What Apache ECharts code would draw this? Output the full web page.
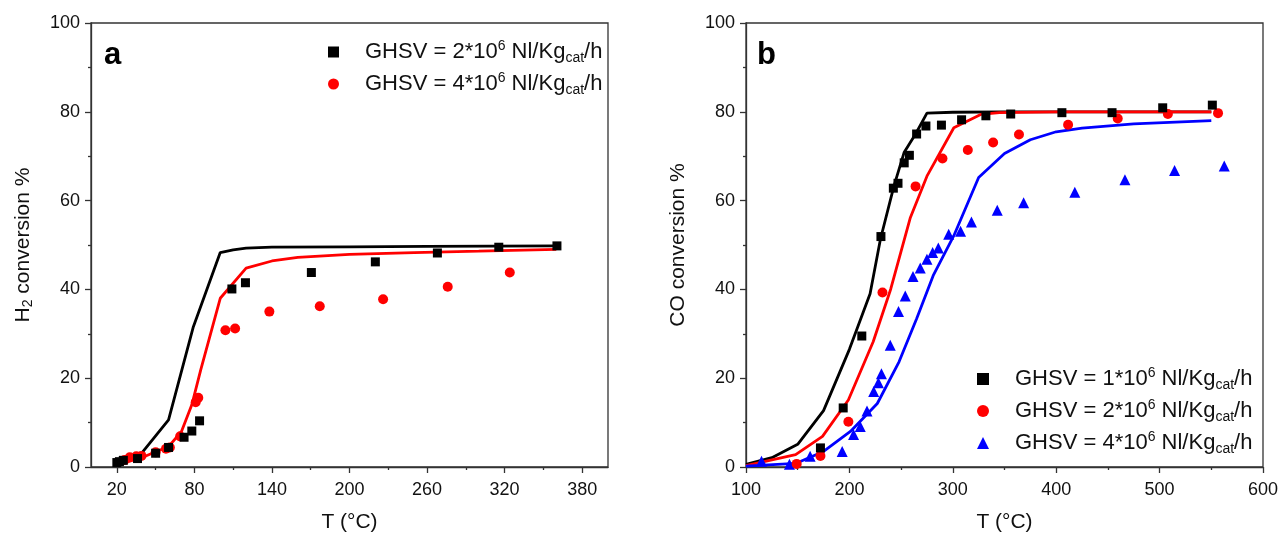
<!DOCTYPE html>
<html>
<head>
<meta charset="utf-8">
<style>
  html, body { margin: 0; padding: 0; background: #fff; }
  #chart { width: 1282px; height: 538px; }
</style>
<script src="https://cdn.jsdelivr.net/npm/echarts@6/dist/echarts.min.js"></script>
</head>
<body>
<div id="chart"></div>
<script>
// panel a: H2 conversion vs T
const aTicks = [20, 80, 140, 200, 260, 320, 380];
const aMinorTicks = [50, 110, 170, 230, 290, 350];

const aExp2T = [20, 22, 25, 36, 50, 60, 72, 78, 84, 109, 119.5, 170.5, 220, 268, 315.5, 360.5];
const aExp2V = [1.0, 1.2, 1.5, 1.9, 3.1, 4.4, 6.7, 8.1, 10.4, 40.1, 41.5, 43.8, 46.2, 48.2, 49.5, 49.8];
const aExp4T = [26, 30, 35, 39, 50, 58, 61, 69, 81, 83, 104, 111.5, 138, 177, 226, 276, 324];
const aExp4V = [1.6, 2.2, 2.4, 2.5, 3.3, 4.1, 4.4, 6.9, 14.6, 15.6, 30.8, 31.2, 35.0, 36.2, 37.8, 40.6, 43.8];

const aFit2T = [20, 30, 40, 60, 79, 100, 110, 120, 140, 200, 260, 360];
const aFit2V = [0.7, 1.6, 3.4, 10.6, 31.4, 48.3, 48.9, 49.3, 49.5, 49.6, 49.7, 49.8];
const aFit4T = [20, 40, 60, 70, 78, 85, 100, 120, 140, 160, 200, 250, 300, 360];
const aFit4V = [0.4, 2.2, 4.6, 8.0, 14.0, 22.0, 38.0, 44.8, 46.4, 47.2, 47.9, 48.3, 48.6, 49.0];

// panel b: CO conversion vs T
const bExp1T = [172, 194, 212, 230.5, 242.5, 247, 253, 258, 265, 274, 289, 308.5, 332, 356, 405.5, 454, 503, 551];
const bExp1V = [4.3, 13.3, 29.5, 51.9, 62.8, 63.9, 68.5, 70.2, 75.0, 76.8, 77.0, 78.2, 79.1, 79.5, 79.8, 79.8, 80.9, 81.5];
const bExp2T = [149, 172, 199, 232, 264, 290, 314.5, 339, 364, 411.5, 459.5, 508, 556.5];
const bExp2V = [0.7, 2.5, 10.2, 39.3, 63.2, 69.5, 71.4, 73.1, 74.9, 77.1, 78.5, 79.5, 79.7];
const bExp4T = [115, 142, 162, 193, 204, 210.5, 217, 223.5, 228, 231, 239.5, 247.5, 254, 261.5, 268.5, 275, 280.5, 286, 296, 307.5, 318, 343, 368.5, 418, 466.5, 514.5, 562.5];
const bExp4V = [1.3, 0.6, 2.4, 3.5, 7.3, 9.1, 12.6, 17.0, 19.0, 21.0, 27.4, 35.0, 38.5, 42.9, 44.8, 46.8, 48.3, 49.3, 52.4, 53.1, 55.2, 57.8, 59.5, 61.9, 64.7, 66.8, 67.8];

const bFit1T = [100, 125, 150, 175, 200, 220, 230, 243, 253, 264, 275, 300, 350, 400, 450, 500, 550];
const bFit1V = [0.6, 2.1, 5.1, 12.7, 26.5, 39.0, 51.3, 63.2, 70.9, 75.0, 79.7, 79.9, 80, 80, 80, 80, 80];
const bFit2T = [100, 148, 174, 199, 223, 240, 259, 275, 301, 327, 345, 400, 450, 500, 550];
const bFit2V = [0.3, 2.8, 6.9, 15.1, 28.2, 40.1, 56.2, 65.5, 76.4, 79.4, 79.8, 80, 80, 80, 80];
const bFit4T = [100, 148, 175, 201, 227, 248, 265, 281, 301, 325, 350, 375, 400, 425, 475, 550];
const bFit4V = [0.2, 0.8, 3.5, 8.0, 14.3, 23.7, 33.4, 43.1, 52.1, 65.2, 70.6, 73.7, 75.5, 76.3, 77.3, 78.0];

const legendA = ["2", "4"];
const legendB = ["1", "2", "4"];

const FONT = "'Liberation Sans', Arial, sans-serif";
const AXIS_COLOR = "#333";
const BLACK = "#000000";
const RED = "#ff0000";
const BLUE = "#0000ff";

const zip = (xs, ys) => xs.map((x, i) => [x, ys[i]]);
const ghsvName = (k) => "GHSV = " + k + "e6";

const legendRich = {
  g: { width: 21 },
  t: { fontSize: 22, lineHeight: 26, color: "#111", fontFamily: FONT },
  sup: { fontSize: 14, lineHeight: 12, verticalAlign: "top", color: "#111", fontFamily: FONT },
  sub: { fontSize: 14, lineHeight: 12, verticalAlign: "bottom", color: "#111", fontFamily: FONT }
};
const legendFormatter = (name) => {
  const k = name.replace("GHSV = ", "").replace("e6", "");
  return "{g|}{t|GHSV = " + k + "*10}{sup|6}{t| Nl/Kg}{sub|cat}{t|/h}";
};

function xAxisBase(grid) {
  return {
    gridIndex: grid,
    type: "value",
    axisLine: { lineStyle: { color: AXIS_COLOR, width: 1.3 } },
    axisTick: { length: 6, lineStyle: { color: AXIS_COLOR, width: 1.3 } },
    axisLabel: { color: "#111", fontSize: 18, margin: 14, fontFamily: FONT },
    splitLine: { show: false },
    name: "T (°C)",
    nameLocation: "middle",
    nameGap: 45,
    nameTextStyle: { color: "#111", fontSize: 21, fontFamily: FONT }
  };
}

function yAxisBase(grid, rich, text) {
  return {
    gridIndex: grid,
    type: "value",
    min: 0,
    max: 100,
    interval: 20,
    axisLine: { lineStyle: { color: AXIS_COLOR, width: 1.3 } },
    axisTick: { length: 6, lineStyle: { color: AXIS_COLOR, width: 1.3 } },
    minorTick: { show: true, splitNumber: 2, length: 3, lineStyle: { color: AXIS_COLOR, width: 1.3 } },
    axisLabel: { color: "#111", fontSize: 18, margin: 11, fontFamily: FONT },
    splitLine: { show: false },
    minorSplitLine: { show: false },
    name: text,
    nameLocation: "middle",
    nameGap: 56,
    nameTextStyle: { color: "#111", fontSize: 21, fontFamily: FONT, rich: rich }
  };
}

const nameRich = {
  t: { fontSize: 21, lineHeight: 24, color: "#111", fontFamily: FONT },
  s: { fontSize: 14, lineHeight: 12, verticalAlign: "bottom", color: "#111", fontFamily: FONT }
};

function fitLine(x, y, data, color) {
  return {
    type: "line", xAxisIndex: x, yAxisIndex: y, data: data,
    showSymbol: false, symbol: "none", z: 2,
    lineStyle: { color: color, width: 2.8 }
  };
}
function points(x, y, name, data, symbol, size, color) {
  return {
    type: "scatter", name: name, xAxisIndex: x, yAxisIndex: y, data: data,
    symbol: symbol, symbolSize: size, z: 3,
    itemStyle: { color: color, opacity: 1 }
  };
}

const chart = echarts.init(document.getElementById("chart"), null, { renderer: "canvas" });

chart.setOption({
  animation: false,
  backgroundColor: "#fff",
  textStyle: { fontFamily: FONT },
  title: [
    { text: "a", left: 104, top: 40, padding: 0, textStyle: { fontSize: 31, fontWeight: "bold", color: "#000", fontFamily: FONT } },
    { text: "b", left: 757, top: 40, padding: 0, textStyle: { fontSize: 31, fontWeight: "bold", color: "#000", fontFamily: FONT } }
  ],
  grid: [
    { left: 91, top: 23, width: 517, height: 446, show: true, borderColor: AXIS_COLOR, borderWidth: 1.3, backgroundColor: "transparent" },
    { left: 746, top: 23, width: 517, height: 446, show: true, borderColor: AXIS_COLOR, borderWidth: 1.3, backgroundColor: "transparent" }
  ],
  legend: [
    {
      data: legendA.map(ghsvName).map((n, i) => ({ name: n, icon: i === 0 ? "rect" : "circle" })),
      orient: "vertical", left: 328, top: 39, padding: 0, itemGap: 6,
      itemWidth: 11, itemHeight: 11,
      formatter: legendFormatter,
      textStyle: { rich: legendRich },
      selectedMode: false
    },
    {
      data: legendB.map((k) => "GHSV = " + k + "e6 ").map((n, i) => ({ name: n, icon: ["rect", "circle", "triangle"][i] })),
      orient: "vertical", left: 977, top: 366, padding: 0, itemGap: 6,
      itemWidth: 12, itemHeight: 12,
      formatter: (n) => legendFormatter(n.trim()),
      textStyle: { rich: legendRich },
      selectedMode: false
    }
  ],
  xAxis: [
    Object.assign(xAxisBase(0), {
      min: 0, max: 400,
      axisTick: { length: 6, customValues: aTicks, lineStyle: { color: AXIS_COLOR, width: 1.3 } },
      axisLabel: { color: "#111", fontSize: 18, margin: 14, fontFamily: FONT, customValues: aTicks }
    }),
    {
      gridIndex: 0, type: "value", min: 0, max: 400, position: "bottom",
      axisLine: { show: false },
      axisTick: { length: 3, customValues: aMinorTicks, lineStyle: { color: AXIS_COLOR, width: 1.3 } },
      axisLabel: { show: false },
      splitLine: { show: false }
    },
    Object.assign(xAxisBase(1), {
      min: 100, max: 600, interval: 100,
      minorTick: { show: true, splitNumber: 2, length: 3, lineStyle: { color: AXIS_COLOR, width: 1.3 } },
      minorSplitLine: { show: false }
    })
  ],
  yAxis: [
    yAxisBase(0, nameRich, "{t|H}{s|2}{t| conversion %}"),
    yAxisBase(1, nameRich, "{t|CO conversion %}")
  ],
  series: [
    fitLine(0, 0, zip(aFit2T, aFit2V), BLACK),
    fitLine(0, 0, zip(aFit4T, aFit4V), RED),
    points(0, 0, ghsvName("4"), zip(aExp4T, aExp4V), "circle", 10, RED),
    points(0, 0, ghsvName("2"), zip(aExp2T, aExp2V), "rect", 9, BLACK),

    fitLine(2, 1, zip(bFit1T, bFit1V), BLACK),
    fitLine(2, 1, zip(bFit2T, bFit2V), RED),
    fitLine(2, 1, zip(bFit4T, bFit4V), BLUE),
    points(2, 1, "GHSV = 4e6 ", zip(bExp4T, bExp4V), "triangle", 11, BLUE),
    points(2, 1, "GHSV = 2e6 ", zip(bExp2T, bExp2V), "circle", 10, RED),
    points(2, 1, "GHSV = 1e6 ", zip(bExp1T, bExp1V), "rect", 9, BLACK)
  ]
});
</script>
</body>
</html>
